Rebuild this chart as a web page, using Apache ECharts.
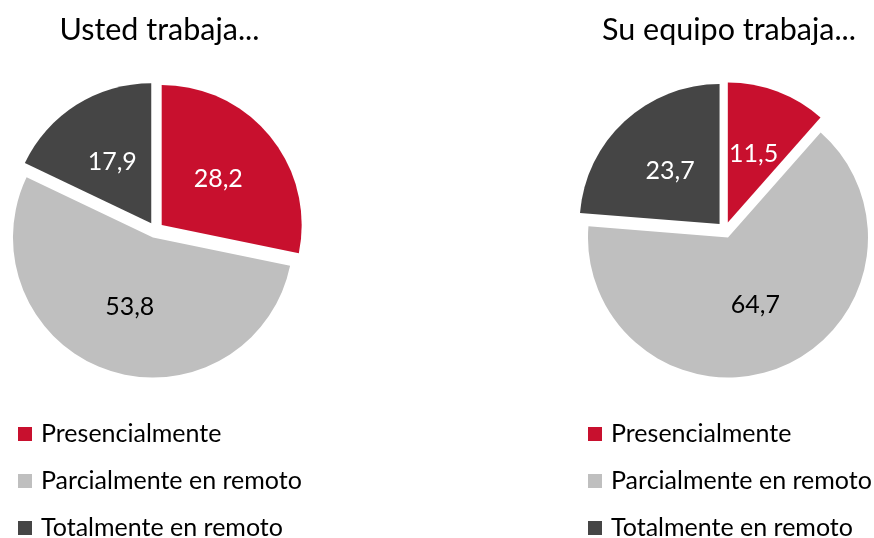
<!DOCTYPE html>
<html>
<head>
<meta charset="utf-8">
<script src="https://cdn.jsdelivr.net/npm/echarts@6/dist/echarts.min.js"></script>
<style>html,body{margin:0;padding:0;background:#fff}#c{width:874px;height:538px}</style>
</head>
<body>
<div id="c"></div>
<script>
const categories = ['Presencialmente', 'Parcialmente en remoto', 'Totalmente en remoto'];
const titles = ['Usted trabaja...', 'Su equipo trabaja...'];
const ustedValues = [28.2, 53.8, 17.9];
const equipoValues = [11.5, 64.7, 23.7];
const colors = ['#C8102E', '#BFBFBF', '#454545'];
const labelColors = ['#ffffff', '#000000', '#ffffff'];
const FONT = 'Lato';

function mkData(vals) {
  return vals.map((v, i) => ({
    name: categories[i], value: v, selected: true,
    itemStyle: { color: colors[i] },
    label: { color: labelColors[i] }
  }));
}
function mkPie(vals, cx) {
  return {
    type: 'pie', center: [cx, 230], radius: 140, startAngle: 90, clockwise: true,
    selectedMode: 'multiple', selectedOffset: 8,
    select: { itemStyle: { borderWidth: 0 } },
    emphasis: { disabled: true }, silent: true,
    avoidLabelOverlap: false,
    label: { show: true, position: 'inside', fontFamily: FONT, fontSize: 25,
      formatter: p => p.value.toFixed(1).replace('.', ',') },
    labelLine: { show: false },
    data: mkData(vals)
  };
}
function mkLegend(x) {
  return {
    orient: 'vertical', left: x, top: 419, height: 130, padding: 0, icon: 'rect',
    itemWidth: 14, itemHeight: 14, itemGap: 17, selectedMode: false, data: categories,
    textStyle: { fontFamily: FONT, fontSize: 25, color: '#000', lineHeight: 30, padding: [0,0,0,4] }
  };
}
const chart = echarts.init(document.getElementById('c'), null, { renderer: 'canvas' });
const titleStyle = { fontFamily: FONT, fontSize: 30.5, fontWeight: 'normal', color: '#000' };
chart.setOption({
  animation: false,
  title: [
    { text: titles[0], left: 154.5, top: 10, textAlign: 'center', textStyle: titleStyle },
    { text: titles[1], left: 724, top: 10, textAlign: 'center', textStyle: titleStyle }
  ],
  legend: [mkLegend(18), mkLegend(588)],
  series: [mkPie(ustedValues, 155.5), mkPie(equipoValues, 725)]
});
</script>
</body>
</html>
